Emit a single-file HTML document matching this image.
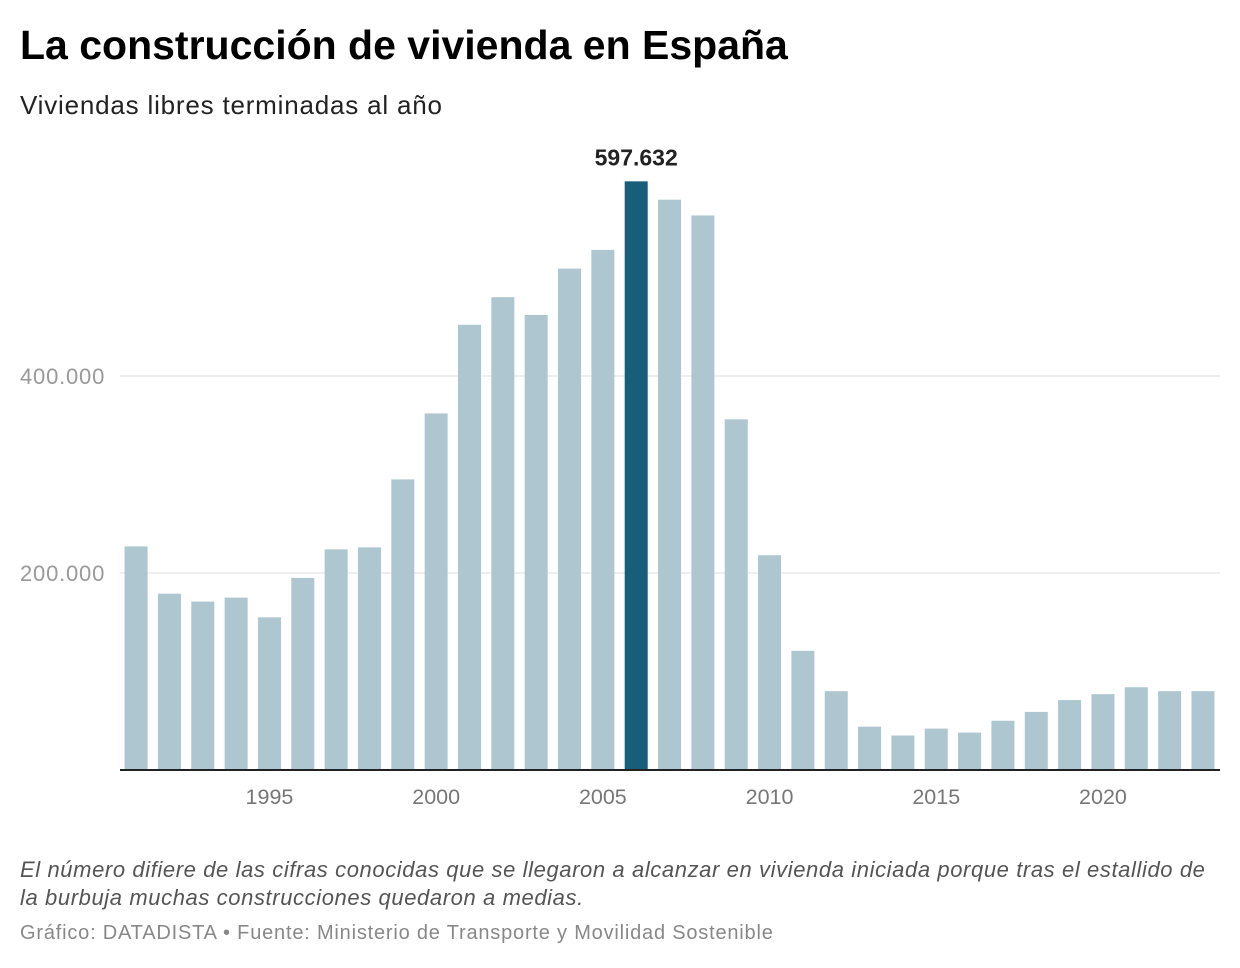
<!DOCTYPE html>
<html><head><meta charset="utf-8"><style>
body{margin:0;background:#fff;width:1240px;height:968px;overflow:hidden;font-family:"Liberation Sans",Arial,sans-serif}
.t{position:absolute;left:20px;top:22px;font-size:41px;font-weight:bold;color:#000;margin:0;letter-spacing:0}
.s{position:absolute;left:20px;top:90px;font-size:26px;color:#222;letter-spacing:0.8px}
.n{position:absolute;left:20px;top:856px;width:1220px;font-size:22px;font-style:italic;color:#555;line-height:28px;letter-spacing:0.6px;white-space:nowrap}
.src{position:absolute;left:20px;top:922px;font-size:20px;color:#888;letter-spacing:0.8px}
svg{position:absolute;left:0;top:0}
</style></head><body>
<h1 class="t">La construcción de vivienda en España</h1>
<div class="s">Viviendas libres terminadas al año</div>
<svg id="c" width="1240" height="968"></svg>
<div class="n">El número difiere de las cifras conocidas que se llegaron a alcanzar en vivienda iniciada porque tras el estallido de<br>la burbuja muchas construcciones quedaron a medias.</div>
<div class="src">Gráfico: DATADISTA • Fuente: Ministerio de Transporte y Movilidad Sostenible</div>
<script>
const years=[1991,1992,1993,1994,1995,1996,1997,1998,1999,2000,2001,2002,2003,2004,2005,2006,2007,2008,2009,2010,2011,2012,2013,2014,2015,2016,2017,2018,2019,2020,2021,2022,2023];
const values=[227000,179000,171000,175000,155000,195000,224000,226000,295000,362000,452000,480000,462000,509000,528000,597632,579000,563000,356000,218000,121000,80000,44000,35000,42000,38000,50000,59000,71000,77000,84000,80000,80000];
const yTicks=[200000,400000];
const xTicks=[1995,2000,2005,2010,2015,2020];
const highlightYear=2006;
const NS="http://www.w3.org/2000/svg",svg=document.getElementById('c');
const y=v=>770-v*0.000985;
const x=yr=>136.1+(yr-1991)*33.34;
function mk(t,a){const e=document.createElementNS(NS,t);for(const k in a)e.setAttribute(k,a[k]);svg.appendChild(e);return e;}
const fmt=v=>String(Math.round(v)).replace(/\B(?=(\d{3})+(?!\d))/g,'.');
yTicks.forEach(v=>{
 const l=mk('line',{x1:120,x2:1220,y1:y(v),y2:y(v),stroke:'#ddd','stroke-width':1});
 
 
 const t=mk('text',{x:20,y:y(v)+8,'font-size':22,'letter-spacing':0.8,fill:'#999','font-family':'Liberation Sans,sans-serif'});
 t.textContent=fmt(v);
 
 
});
years.forEach((yr,i)=>{
 const v=values[i],hl=yr===highlightYear;
 const r=mk('rect',{x:x(yr)-11.5,y:y(v),width:23,height:770-y(v),fill:hl?'#175e7a':'#adc6cf'});
 
 
 if(hl){const t=mk('text',{x:x(yr),y:y(v)-16,'font-size':23,'font-weight':'bold','text-anchor':'middle',fill:'#222','font-family':'Liberation Sans,sans-serif'});
 t.textContent=fmt(v);
 
 }
});
const ax=mk('line',{x1:120,x2:1220,y1:770,y2:770,stroke:'#222','stroke-width':2});


xTicks.forEach(yr=>{
 const t=mk('text',{x:x(yr),y:804,'font-size':21.5,'text-anchor':'middle',fill:'#777','font-family':'Liberation Sans,sans-serif'});
 t.textContent=yr;
 
 
});
</script>
</body></html>
